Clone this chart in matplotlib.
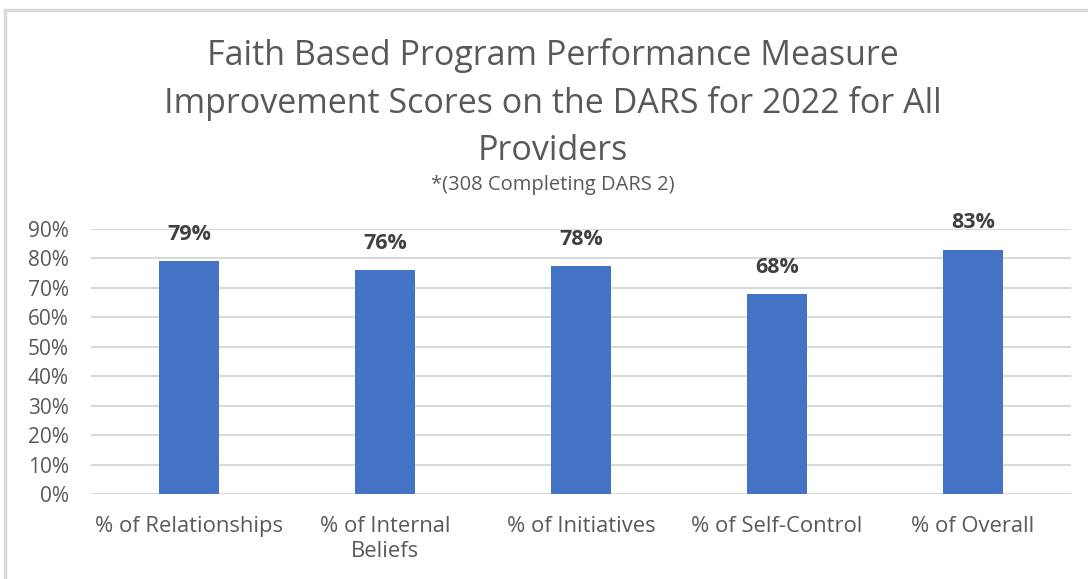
import matplotlib
matplotlib.use("Agg")
import matplotlib.pyplot as plt
from matplotlib.patches import Rectangle

categories = ["% of Relationships", "% of Internal\nBeliefs", "% of Initiatives",
              "% of Self-Control", "% of Overall"]
values = [0.79, 0.76, 0.775, 0.68, 0.83]
labels = ["79%", "76%", "78%", "68%", "83%"]
yticks = [0, 0.1, 0.2, 0.3, 0.4, 0.5, 0.6, 0.7, 0.8, 0.9]
ytick_labels = ["0%", "10%", "20%", "30%", "40%", "50%", "60%", "70%", "80%", "90%"]

plt.rcParams['font.family'] = ['Open Sans', 'DejaVu Sans']

fig = plt.figure(figsize=(10.88, 5.79), dpi=100)
ax = fig.add_axes([91/1088, 1-494/579, 980/1088, 265/579])

x = list(range(len(categories)))
ax.bar(x, values, width=0.31, color="#4472C4", zorder=3)
for xi, v, lab in zip(x, values, labels):
    ax.text(xi, v + 0.055, lab, ha="center", va="bottom", fontsize=15.5,
            fontweight="bold", color="#404040", clip_on=False)

ax.set_xlim(-0.5, len(categories) - 0.5)
ax.set_ylim(0, 0.9)
ax.set_yticks(yticks)
ax.set_yticklabels(ytick_labels, fontsize=15, color="#595959")
ax.set_xticks(x)
ax.set_xticklabels(categories, fontsize=15.8, color="#595959", linespacing=1.25)
ax.tick_params(axis="both", length=0)
ax.tick_params(axis="y", pad=16)
ax.tick_params(axis="x", pad=16)
ax.yaxis.grid(True, color="#D9D9D9", linewidth=1.5, zorder=0)
for s in ax.spines.values():
    s.set_visible(False)

fig.text(0.508, 1-103/579,
         "Faith Based Program Performance Measure\nImprovement Scores on the DARS for 2022 for All\nProviders",
         ha="center", va="center", fontsize=24.5, color="#595959", linespacing=1.5)
fig.text(0.508, 1-185/579, "*(308 Completing DARS 2)", ha="center", va="center",
         fontsize=14.5, color="#595959")

fig.patches.append(Rectangle((5/1088, -0.1), 1.2, 1-10/579+0.1, transform=fig.transFigure,
                             fill=False, edgecolor="#D9D9D9", linewidth=2.5))

fig.savefig("out.png", dpi=100)
